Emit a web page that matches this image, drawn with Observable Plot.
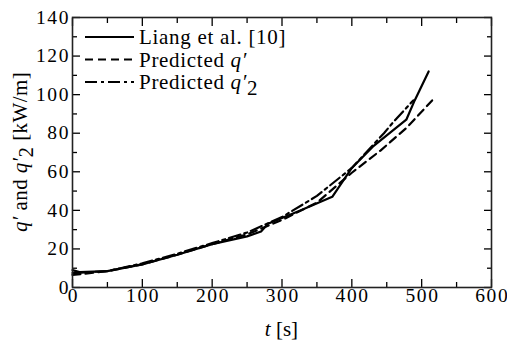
<!DOCTYPE html>
<html>
<head>
<meta charset="utf-8">
<script src="https://cdn.jsdelivr.net/npm/d3@7"></script>
<script src="https://cdn.jsdelivr.net/npm/@observablehq/plot@0.6"></script>
<style>
  html, body { margin: 0; padding: 0; background: #fff; }
  #chart { width: 507px; height: 342px; }
  #chart svg, #chart svg text { font-family: 'Liberation Serif', 'Times New Roman', 'DejaVu Serif', serif !important; }
  #chart g[aria-label="x-axis tick label"] text,
  #chart g[aria-label="y-axis tick label"] text { letter-spacing: 1.6px; }
  #chart text.legend { letter-spacing: 0.7px; }
  #chart text.ytitle { letter-spacing: 0.4px; }
</style>
</head>
<body>
<div id="chart"></div>
<script>
// Liang et al. [10] (solid)
const tLiang = [0, 10, 50, 100, 150, 200, 250, 270, 280, 327, 372, 400, 430, 478, 490, 510];
const qLiang = [9, 8, 8.5, 12, 17, 22.5, 26.5, 29, 33, 40, 47, 62, 73, 87, 97, 112];
// Predicted q' (dashed)
const tPred = [0, 50, 100, 150, 200, 250, 300, 350, 400, 441, 479, 515];
const qPred = [6.5, 8.5, 12, 17, 22.5, 27.5, 35, 44, 59.5, 71, 83, 97];
// Predicted q'2 (dash-dot)
const tPred2 = [0, 50, 100, 150, 200, 250, 300, 350, 400, 446, 460, 488];
const qPred2 = [7.5, 8.5, 12.5, 17.5, 23, 28.5, 36.5, 47.5, 62, 80, 86, 97];

const xMajor = [0, 100, 200, 300, 400, 500, 600];
const xMinor = [50, 150, 250, 350, 450, 550];
const yMajor = [0, 20, 40, 60, 80, 100, 120, 140];
const yMinor = [10, 30, 50, 70, 90, 110, 130];

const toRows = (ts, qs) => ts.map((t, i) => ({t, q: qs[i]}));
const liang = toRows(tLiang, qLiang);
const pred = toRows(tPred, qPred);
const pred2 = toRows(tPred2, qPred2);

const FONT = "'Liberation Serif', 'Times New Roman', 'DejaVu Serif', serif";
const FS = 21;      // titles / legend
const FT = 19.5;    // tick labels
const ML = 72, MR = 16, MT = 17, MB = 55;

const blank = () => "";
const plot = Plot.plot({
  width: 507,
  height: 342,
  marginLeft: ML, marginRight: MR, marginTop: MT, marginBottom: MB,
  style: {fontFamily: FONT, fontSize: FT + "px", background: "#fff", color: "#000", overflow: "visible"},
  x: {domain: [0, 600]},
  y: {domain: [0, 140]},
  marks: [
    Plot.line(liang, {x: "t", y: "q", stroke: "#000", strokeWidth: 2.2}),
    Plot.line(pred, {x: "t", y: "q", stroke: "#000", strokeWidth: 2.2, strokeDasharray: "8,5"}),
    Plot.line(pred2, {x: "t", y: "q", stroke: "#000", strokeWidth: 2.2, strokeDasharray: "12,4,3,4"}),
    // inward ticks
    Plot.axisX(xMajor, {anchor: "bottom", tickSize: -8, tickFormat: blank, label: null, strokeWidth: 1.3}),
    Plot.axisX(xMajor, {anchor: "top", tickSize: -8, tickFormat: blank, label: null, strokeWidth: 1.3}),
    Plot.axisX(xMinor, {anchor: "bottom", tickSize: -5, tickFormat: blank, label: null, strokeWidth: 1.3}),
    Plot.axisX(xMinor, {anchor: "top", tickSize: -5, tickFormat: blank, label: null, strokeWidth: 1.3}),
    Plot.axisY(yMajor, {anchor: "left", tickSize: -8, tickFormat: blank, label: null, strokeWidth: 1.3}),
    Plot.axisY(yMajor, {anchor: "right", tickSize: -8, tickFormat: blank, label: null, strokeWidth: 1.3}),
    Plot.axisY(yMinor, {anchor: "left", tickSize: -5, tickFormat: blank, label: null, strokeWidth: 1.3}),
    Plot.axisY(yMinor, {anchor: "right", tickSize: -5, tickFormat: blank, label: null, strokeWidth: 1.3}),
    // tick labels
    Plot.axisX(xMajor, {anchor: "bottom", tickSize: 0, tickPadding: 1, label: null, fontSize: FT, dx: 0.8}),
    Plot.axisY(yMajor, {anchor: "left", tickSize: 0, tickPadding: 2.5, label: null, fontSize: FT}),
    Plot.frame({stroke: "#222", strokeWidth: 1.6})
  ]
});
document.getElementById("chart").appendChild(plot);

const svg = d3.select(plot);
// x axis title: t [s]
const xt = svg.append("text")
  .attr("x", ML + (507 - ML - MR) / 2).attr("y", 336)
  .attr("text-anchor", "middle")
  .style("font-size", FS + "px").attr("fill", "#000");
xt.append("tspan").style("font-style", "italic").text("t");
xt.append("tspan").text(" [s]");

// y axis title: q' and q'2 [kW/m]
const yt = svg.append("text")
  .attr("class", "ytitle")
  .attr("transform", `translate(27,${MT + (342 - MT - MB) / 2}) rotate(-90)`)
  .attr("text-anchor", "middle")
  .style("font-size", FS + "px").attr("fill", "#000");
yt.append("tspan").style("font-style", "italic").text("q\u2032");
yt.append("tspan").text(" and ");
yt.append("tspan").style("font-style", "italic").text("q\u2032");
yt.append("tspan").attr("dy", "0.3em").text("2");
yt.append("tspan").attr("dy", "-0.3em").text(" [kW/m]");

// legend
const legend = [
  {dash: null, parts: [["Liang et al. [10]", false]]},
  {dash: "8,5", parts: [["Predicted ", false], ["q\u2032", true]]},
  {dash: "12,4,3,4", parts: [["Predicted ", false], ["q\u2032", true], ["2", false, true]]}
];
const ly0 = 37, ldy = 22.5;
legend.forEach((d, i) => {
  const y = ly0 + i * ldy;
  svg.append("line")
    .attr("x1", 85).attr("x2", 134).attr("y1", y).attr("y2", y)
    .attr("stroke", "#000").attr("stroke-width", 2.2)
    .attr("stroke-dasharray", d.dash);
  const t = svg.append("text")
    .attr("class", "legend")
    .attr("x", 139).attr("y", y + 7)
    .attr("text-anchor", "start")
    .style("font-size", FS + "px").attr("fill", "#000");
  d.parts.forEach(([s, it, sub]) => {
    const ts = t.append("tspan").text(s);
    if (it) ts.style("font-style", "italic");
    if (sub) ts.attr("dy", "0.3em");
  });
});
</script>
</body>
</html>
